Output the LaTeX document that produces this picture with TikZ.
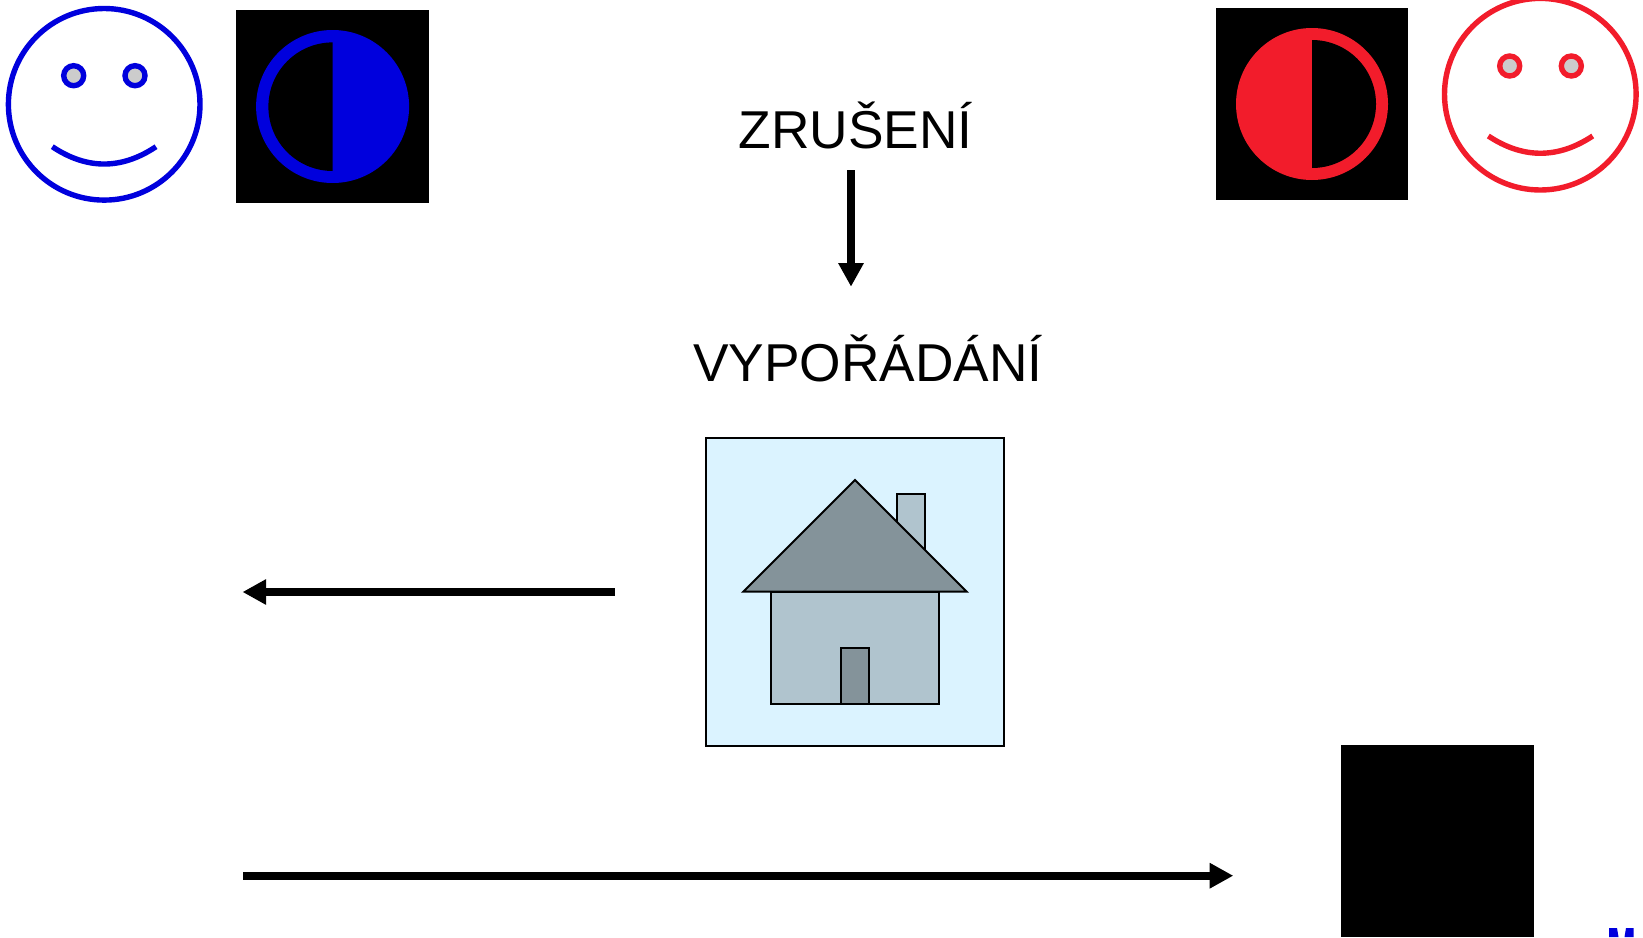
\documentclass[tikz,border=0pt]{standalone}
\usepackage{fontspec}
\setmainfont{Liberation Sans}
\usetikzlibrary{arrows.meta}
\definecolor{faceblue}{HTML}{0000DD}
\definecolor{facered}{HTML}{F21C2B}
\definecolor{eyegrey}{HTML}{CCCCCC}
\definecolor{skyfill}{HTML}{DBF3FF}
\definecolor{wallfill}{HTML}{B0C4CE}
\definecolor{roofdark}{HTML}{84939A}
\tikzset{
  x=0.5pt, y=-0.5pt,
  faceline/.style={line width=2.7pt, fill=white},
  eyeline/.style={line width=2.7pt, fill=eyegrey},
  smileline/.style={line width=2.7pt},
  heavyarrow/.style={line width=4.2pt, -{Triangle[length=11.8pt,width=12pt]}},
  label/.style={font=\fontsize{26.65}{30}\selectfont, anchor=base, inner sep=0pt, text=black},
  houseline/.style={draw=black, line width=1pt, line join=miter},
}
\begin{document}
\begin{tikzpicture}
\useasboundingbox (0,0) rectangle (1643,937);
\clip (0,0) rectangle (1643,937);
\fill[white] (0,0) rectangle (1643,937);

% blue face
\draw[faceblue, faceline] (104.2,104.3) circle [radius=47.9pt];
\draw[faceblue, eyeline] (73.7,75.7) circle [radius=5pt];
\draw[faceblue, eyeline] (135,75.7) circle [radius=5pt];
\draw[faceblue, smileline] (52.3,146.7) .. controls (86.9,169.8) and (121.5,169.8) .. (156,146.7);

% blue half disc on black
\fill[black] (236,10) rectangle (429,202.7);
\fill[faceblue] (332.6,106.5) circle [radius=38.25pt];
\fill[black] (332.7,42.4) arc [start angle=90, end angle=270, radius=32.15pt] -- cycle;

% red half disc on black
\fill[black] (1216,8) rectangle (1408,200);
\fill[facered] (1312,104) circle [radius=38pt];
\fill[black] (1312,40) arc [start angle=90, end angle=-90, radius=32pt] -- cycle;

% red face
\draw[facered, faceline] (1540.3,94.2) circle [radius=47.9pt];
\draw[facered, eyeline] (1509.7,66) circle [radius=5pt];
\draw[facered, eyeline] (1571.3,66) circle [radius=5pt];
\draw[facered, smileline] (1488.3,136) .. controls (1523,159) and (1558,159) .. (1592.7,136);

% texts
\node[label] (zruseni) at (855.5,148.3) {ZRUŠENÍ};
\node[label] (vyporadani) at (868,381.2) {VYPOŘÁDÁNÍ};
\coordinate (downstart) at (851,170);
\coordinate (downend) at (851,286.7);
\draw[heavyarrow] (downstart) -- (downend);

% house
\node[houseline, fill=skyfill, minimum width=149pt, minimum height=153.8pt, inner sep=0pt, anchor=north west] (frame) at (705.3,437) {};
\draw[houseline, fill=wallfill] (897,551) -- (897,493.9) -- (925,493.9) -- (925,551) -- cycle;
\draw[houseline, fill=wallfill] (771,591.7) rectangle (939,703.8);
\draw[houseline, fill=roofdark] (855,480) -- (966.7,591.7) -- (743.3,591.7) -- cycle;
\draw[houseline, fill=roofdark] (841,703.8) -- (841,647.9) -- (869,647.9) -- (869,703.8) -- cycle;

% long arrows
\coordinate (leftstart) at (614.7,592);
\coordinate (leftend) at (242.5,592);
\draw[heavyarrow] (leftstart) -- (leftend);
\coordinate (rightstart) at (243.3,875.7);
\coordinate (rightend) at (1233.3,875.7);
\draw[heavyarrow] (rightstart) -- (rightend);

% bottom black square and blue cut-off marks
\fill[black] (1341,745) rectangle (1534,937);
\fill[faceblue] (1609,928) -- (1617,928) -- (1618.5,937) -- (1609,937) -- cycle;
\fill[faceblue] (1626,928) -- (1633.5,928) -- (1633.5,937) -- (1624.5,937) -- cycle;
\end{tikzpicture}
\end{document}
